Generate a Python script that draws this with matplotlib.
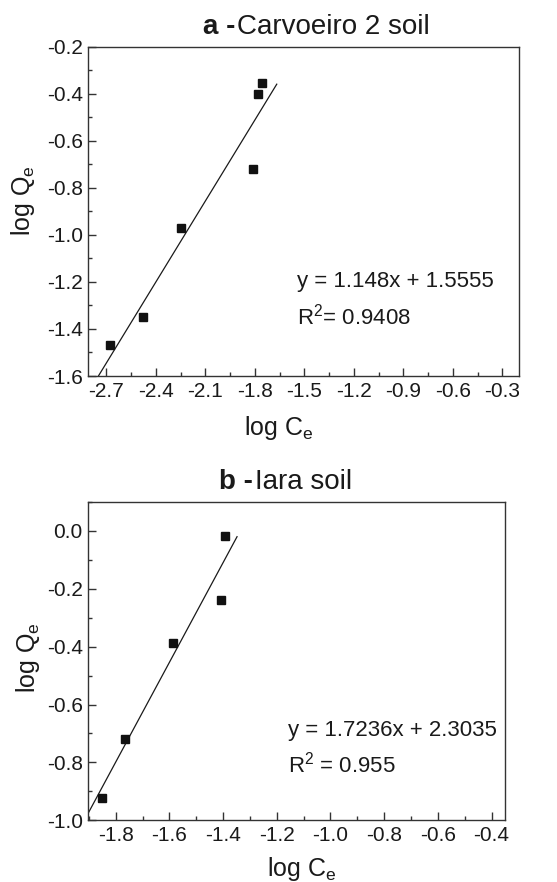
import matplotlib
matplotlib.use("Agg")
import matplotlib.pyplot as plt
from matplotlib.ticker import MultipleLocator

plt.rcParams['font.family'] = ['Liberation Sans', 'DejaVu Sans']
plt.rcParams['mathtext.fontset'] = 'custom'
plt.rcParams['mathtext.rm'] = 'Liberation Sans'

# panel a - Carvoeiro 2 soil
a_log_ce = [-2.68, -2.477, -2.249, -1.811, -1.781, -1.757]
a_log_qe = [-1.47, -1.349, -0.972, -0.718, -0.400, -0.355]
a_slope, a_icpt, a_r2 = 1.148, 1.5555, "R$^\\mathregular{2}$= 0.9408"
a_fit_x = [-2.76, -1.668]

# panel b - Iara soil
b_log_ce = [-1.850, -1.764, -1.588, -1.406, -1.393]
b_log_qe = [-0.922, -0.720, -0.386, -0.237, -0.017]
b_slope, b_icpt, b_r2 = 1.7236, 2.3035, "R$^\\mathregular{2}$ = 0.955"
b_fit_x = [-1.902, -1.348]

W, H = 557, 882
fig = plt.figure(figsize=(W / 100, H / 100), dpi=100)
ink = "#1a1a1a"


def px(x, y):
    return x / W, 1 - y / H


def fmt(v, p):
    return f"{v:.1f}".replace("-0.0", "0.0")


def panel(rect, xs, ys, slope, icpt, r2, fit_x, xlim, ylim, xmaj, ymaj, txt_xy):
    ax = fig.add_axes(rect)
    fit_y = [slope * v + icpt for v in fit_x]
    ax.plot(fit_x, fit_y, color=ink, lw=0.9)
    ax.plot(xs, ys, "s", color="#111111", ms=5.5, mec="#111111")
    ax.set_xlim(*xlim)
    ax.set_ylim(*ylim)
    ax.xaxis.set_major_locator(MultipleLocator(xmaj))
    ax.xaxis.set_minor_locator(MultipleLocator(xmaj / 2))
    ax.yaxis.set_major_locator(MultipleLocator(ymaj))
    ax.yaxis.set_minor_locator(MultipleLocator(ymaj / 2))
    ax.xaxis.set_major_formatter(fmt)
    ax.yaxis.set_major_formatter(fmt)
    for s in ax.spines.values():
        s.set_color("#333333")
        s.set_linewidth(1.0)
    ax.tick_params(which="both", direction="in", top=False, right=False,
                   labelsize=15, colors="#333333", labelcolor=ink, pad=4)
    ax.tick_params(which="major", length=6, width=1)
    ax.tick_params(which="minor", length=3, width=1)
    ax.text(txt_xy[0], txt_xy[1], f"y = {slope}x + {icpt}", fontsize=16,
            color=ink, va="center", ha="left")
    ax.text(txt_xy[0], txt_xy[2], r2, fontsize=16, color=ink,
            va="center", ha="left")
    return ax


# top panel
x0, y0 = px(88.3, 376)
x1, y1 = px(519, 46.7)
panel([x0, y0, x1 - x0, y1 - y0], a_log_ce, a_log_qe, a_slope, a_icpt, a_r2,
      a_fit_x, (-2.81, -0.2), (-1.6, -0.2), 0.3, 0.2, (-1.546, -1.2, -1.349))

# bottom panel
x0, y0 = px(88.3, 820.3)
x1, y1 = px(505, 502)
panel([x0, y0, x1 - x0, y1 - y0], b_log_ce, b_log_qe, b_slope, b_icpt, b_r2,
      b_fit_x, (-1.902, -0.35), (-1.0, 0.1), 0.2, 0.2, (-1.157, -0.689, -0.806))

# titles: bold letter part + normal part
fig.text(*px(235, 27), "a -", fontsize=20, fontweight="bold", ha="right",
         va="center", color=ink)
fig.text(*px(237, 27), "Carvoeiro 2 soil", fontsize=20, ha="left",
         va="center", color=ink)
fig.text(*px(253, 482), "b -", fontsize=20, fontweight="bold", ha="right",
         va="center", color=ink)
fig.text(*px(255, 482), "Iara soil", fontsize=20, ha="left",
         va="center", color=ink)

# axis labels
fig.text(*px(279, 428), "log C$_\\mathregular{e}$", fontsize=18, ha="center",
         va="center", color=ink)
fig.text(*px(302, 869), "log C$_\\mathregular{e}$", fontsize=18, ha="center",
         va="center", color=ink)
fig.text(*px(23, 201), "log Q$_\\mathregular{e}$", fontsize=18, ha="center",
         va="center", rotation=90, color=ink)
fig.text(*px(28, 658), "log Q$_\\mathregular{e}$", fontsize=18, ha="center",
         va="center", rotation=90, color=ink)

fig.savefig("out.png", dpi=100)
